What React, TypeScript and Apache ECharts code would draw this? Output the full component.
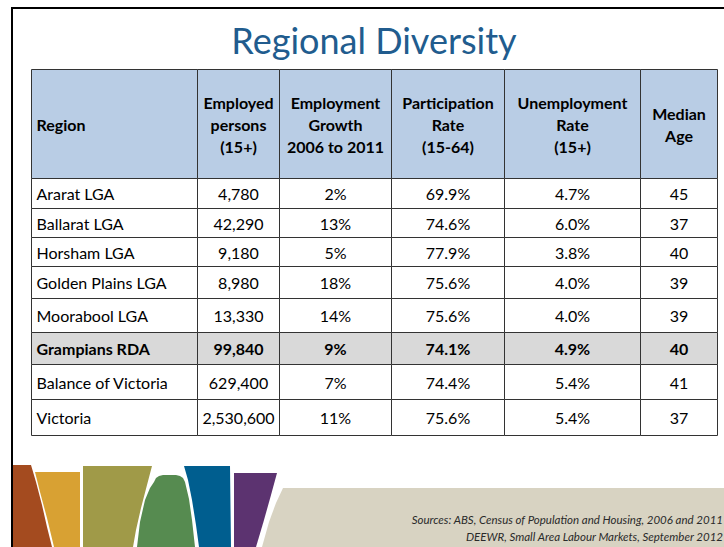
import React, { useEffect, useRef } from 'react';
import * as echarts from 'echarts';

// ---------- data ----------
const chartTitle = 'Regional Diversity';
const headers = [
  'Region',
  'Employed\npersons\n(15+)',
  'Employment\nGrowth\n2006 to 2011',
  'Participation\nRate\n(15-64)',
  'Unemployment\nRate\n(15+)',
  'Median\nAge',
];
const regions = [
  'Ararat LGA',
  'Ballarat LGA',
  'Horsham LGA',
  'Golden Plains LGA',
  'Moorabool LGA',
  'Grampians RDA',
  'Balance of Victoria',
  'Victoria',
];
const employedPersons = [4780, 42290, 9180, 8980, 13330, 99840, 629400, 2530600];
const employmentGrowth = [2, 13, 5, 18, 14, 9, 7, 11];
const participationRate = [69.9, 74.6, 77.9, 75.6, 75.6, 74.1, 74.4, 75.6];
const unemploymentRate = [4.7, 6.0, 3.8, 4.0, 4.0, 4.9, 5.4, 5.4];
const medianAge = [45, 37, 40, 39, 39, 40, 41, 37];
const highlightRegion = 'Grampians RDA';
const sourceLines = [
  'Sources: ABS, Census of Population and Housing, 2006 and 2011',
  'DEEWR, Small Area Labour Markets, September 2012',
];

// ---------- layout (not data) ----------
const colWidths = [166, 82, 112, 113, 136, 77];
const rowHeights = [108.5, 30.5, 29, 29, 32, 34, 32, 35, 36];
const cum = (a: number[]) => a.reduce((acc: number[], v) => { acc.push(acc[acc.length - 1] + v); return acc; }, [0]);
const colEdges = cum(colWidths);
const rowEdges = cum(rowHeights);

const FONT = 'Lato, "Noto Sans", sans-serif';

type Cell = { col: number; row: number; text: string; header: boolean; bold: boolean; shade: boolean };

function buildCells(): Cell[] {
  const cells: Cell[] = [];
  headers.forEach((h, c) => cells.push({ col: c, row: 0, text: h, header: true, bold: true, shade: false }));
  regions.forEach((reg, i) => {
    const hl = reg === highlightRegion;
    const vals = [
      reg,
      employedPersons[i].toLocaleString('en-US'),
      employmentGrowth[i] + '%',
      participationRate[i].toFixed(1) + '%',
      unemploymentRate[i].toFixed(1) + '%',
      String(medianAge[i]),
    ];
    vals.forEach((t, c) => cells.push({ col: c, row: i + 1, text: t, header: false, bold: hl, shade: hl }));
  });
  return cells;
}

export default function App() {
  const ref = useRef<HTMLDivElement>(null);
  useEffect(() => {
    if (!ref.current) return;
    const chart = echarts.init(ref.current, undefined, { renderer: 'svg' });
    const cells = buildCells();

    const shapes: { pts: number[][]; fill: string }[] = [
      { fill: '#A44B1F', pts: [[13, 465], [31, 465], [36, 482], [42, 505], [47, 527], [52, 547], [13, 547]] },
      { fill: '#D8A133', pts: [[35, 472], [80, 472], [80, 547], [54, 547], [47, 518], [40, 492]] },
      { fill: '#A09A48', pts: [[83, 466], [152, 466], [147, 485], [141, 508], [136, 530], [133, 547], [83, 547]] },
      { fill: '#568B50', pts: [[154, 482], [156, 478], [159, 476], [163, 475], [176, 475], [180, 476], [183, 478], [185, 482], [189, 499], [192, 520], [195, 547], [137, 547], [140, 522], [145, 500], [150, 488]] },
      { fill: '#005E8F', pts: [[184, 466], [230, 466], [231, 547], [199, 547], [196, 525], [192, 500], [188, 480]] },
      { fill: '#5C3370', pts: [[234, 473], [277, 473], [271, 495], [264, 520], [256, 547], [234, 547]] },
      { fill: '#D8D3C2', pts: [[283, 488], [724, 488], [724, 547], [262, 547], [269, 522], [276, 503]] },
    ];

    chart.setOption({
      animation: false,
      grid: { left: 31, right: 7, top: 69, bottom: 112 },
      xAxis: { type: 'value', min: 0, max: colEdges[colEdges.length - 1], show: false },
      yAxis: { type: 'value', min: 0, max: rowEdges[rowEdges.length - 1], inverse: true, show: false },
      graphic: [
        { type: 'line', shape: { x1: 11, y1: 8, x2: 724, y2: 8 }, style: { stroke: '#000', lineWidth: 2 } },
        { type: 'line', shape: { x1: 12, y1: 7, x2: 12, y2: 547 }, style: { stroke: '#000', lineWidth: 2 } },
        {
          type: 'text', x: 374, y: 40,
          style: { text: chartTitle, fill: '#215C8E', align: 'center', verticalAlign: 'middle', font: `36px ${FONT}` },
        },
        ...shapes.map((s) => ({ type: 'polygon', shape: { points: s.pts }, style: { fill: s.fill } })),
        ...sourceLines.map((t, i) => ({
          type: 'text', x: 723, y: 519 + i * 17,
          style: { text: t, align: 'right', verticalAlign: 'middle', fill: '#2a2a2a', font: `italic 11.5px ${FONT}` },
        })),
      ],
      series: [
        {
          type: 'custom',
          clip: false,
          data: cells.map((c) => [c.col, c.row]),
          renderItem: (params: any, api: any) => {
            const cell = cells[params.dataIndex];
            const c = api.value(0) as number;
            const r = api.value(1) as number;
            const p0 = api.coord([colEdges[c], rowEdges[r]]);
            const p1 = api.coord([colEdges[c + 1], rowEdges[r + 1]]);
            const x0 = Math.round(p0[0]) + 0.5;
            const y0 = Math.round(p0[1]) + 0.5;
            const x1 = Math.round(p1[0]) + 0.5;
            const y1 = Math.round(p1[1]) + 0.5;
            const fill = cell.header ? '#B9CDE5' : cell.shade ? '#D9D9D9' : '#FFFFFF';
            const left = c === 0;
            return {
              type: 'group',
              children: [
                {
                  type: 'rect',
                  shape: { x: x0, y: y0, width: x1 - x0, height: y1 - y0 },
                  style: { fill, stroke: '#333', lineWidth: 1 },
                },
                {
                  type: 'text',
                  style: {
                    text: cell.text,
                    x: left ? x0 + 5 : (x0 + x1) / 2,
                    y: (y0 + y1) / 2,
                    align: left ? 'left' : 'center',
                    verticalAlign: 'middle',
                    fill: '#000',
                    fontFamily: FONT,
                    fontSize: 16,
                    fontWeight: cell.bold ? 'bold' : 'normal',
                    lineHeight: 22,
                  },
                },
              ],
            };
          },
        },
      ],
    });
    return () => chart.dispose();
  }, []);
  return (
    <div
      ref={ref}
      style={{ position: 'fixed', left: 0, top: 0, width: 724, height: 547, background: '#fff' }}
    />
  );
}
